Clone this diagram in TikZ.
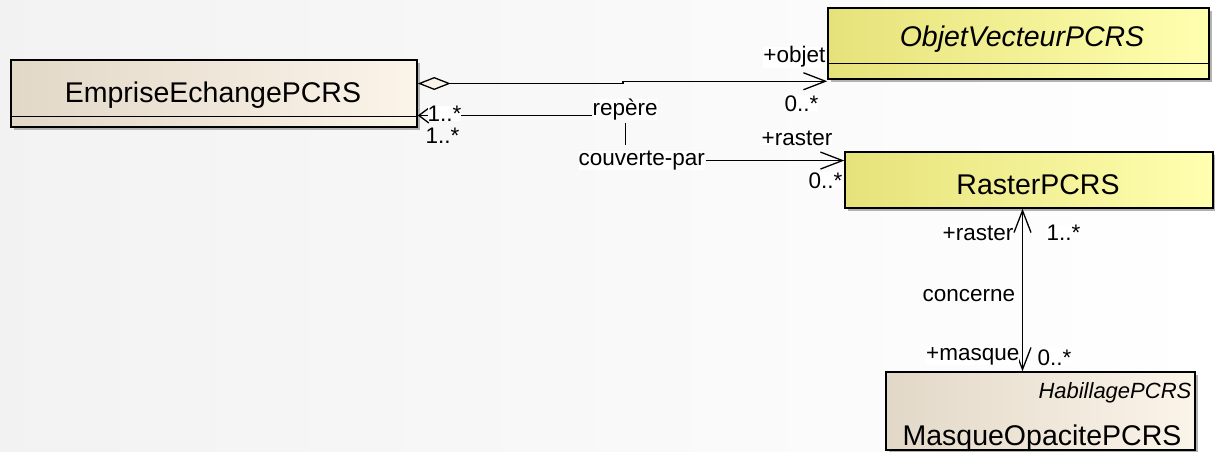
\documentclass[tikz,border=0pt]{standalone}
\usepackage{fontspec}
\setmainfont{Liberation Sans}
\usetikzlibrary{arrows.meta,shadows}
\definecolor{beigeL}{RGB}{226,216,200}
\definecolor{beigeR}{RGB}{251,244,233}
\definecolor{yellowL}{RGB}{230,226,122}
\definecolor{yellowR}{RGB}{255,255,176}
\begin{document}
\begin{tikzpicture}[x=1pt, y=-1pt, line width=1.3pt,
  classbox/.style={rectangle, draw, line width=1.5pt, inner sep=0pt,
    drop shadow={shadow xshift=3pt, shadow yshift=-3pt, fill=black!30, opacity=1}},
  beigebox/.style={classbox, left color=beigeL, right color=beigeR},
  yellowbox/.style={classbox, left color=yellowL, right color=yellowR},
  bigname/.style={font=\fontsize{28.5}{32}\selectfont, inner sep=0pt, anchor=base},
  bigitalic/.style={bigname, font=\fontsize{28.5}{32}\selectfont\itshape},
  role/.style={font=\fontsize{22.5}{25}\selectfont, inner sep=0pt, fill=white},
  pkgname/.style={role, fill=none, font=\fontsize{22}{25}\selectfont\itshape},
  >={Straight Barb[length=22pt,width=17pt]}]
 \useasboundingbox (0,0) rectangle (1215,452);
 \fill [left color=black!5, right color=white] (0,0) rectangle (1215,452);
 \node [beigebox,  minimum width=406pt, minimum height=67pt] (emprise) at (214,93.5)   {};
 \node [yellowbox, minimum width=381pt, minimum height=71pt] (objet)   at (1018.5,43.5) {};
 \node [yellowbox, minimum width=368pt, minimum height=56pt] (raster)  at (1029,180)   {};
 \node [beigebox,  minimum width=309pt, minimum height=78pt] (masque)  at (1040.5,411) {};
  \draw ([yshift=11pt]emprise.south west) -- ([yshift=11pt]emprise.south east);
  \draw ([yshift=16pt]objet.south west)   -- ([yshift=16pt]objet.south east);
 \node [bigname]   (emprise-name) at (213,102)  {EmpriseEchangePCRS};
 \node [bigitalic] (objet-name)   at (1022,47)  {ObjetVecteurPCRS};
 \node [bigname]   (raster-name)  at (1038,194) {RasterPCRS};
 \node [pkgname, anchor=base east] (masque-pkg) at (1192,398) {HabillagePCRS};
 \node [bigname]   (masque-name)  at (1042,445) {MasqueOpacitePCRS};
 \node [role, anchor=base west] (repere)   at (592,115.5) {repère};
 \node [role, anchor=base west] (couvpar)  at (578,165.5) {couverte-par};
 \node [role, anchor=base west] (concerne) at (922,301)   {concerne};
  \draw [{Diamond[length=33pt,width=13pt,fill=beigeR]}->] ([yshift=10pt]emprise.east) -- (623,83.5) |- ([yshift=-1.5pt]objet.south west);
  \draw [{Straight Barb[length=10pt,width=15pt]}-] ([yshift=-22pt]emprise.east) -- (repere.base west);
  \draw [shorten <=2pt, shorten >=5pt] (repere.south) -- (repere.south |- couvpar.north);
  \draw [->] (couvpar.east) -- (raster.west |- couvpar.east);
  \draw [<->] ([xshift=-6.5pt]raster.south) -- ([xshift=-6.5pt]raster.south |- masque.north);
 \node [role, anchor=base east] (objet-role)   at (826,63)   {+objet};
 \node [role, anchor=base west] (objet-mult)   at (784,111)  {0..*};
 \node [role, anchor=base west] (repere-mult)  at (427,121)  {1..*};
 \node [role, anchor=base west, fill=none] (emprise-mult) at (425,143) {1..*};
 \node [role, anchor=base east] (raster-role)  at (833,145)  {+raster};
 \node [role, anchor=base west] (raster-mult)  at (808,188)  {0..*};
 \node [role, anchor=base east] (raster-role2) at (1014,240) {+raster};
 \node [role, anchor=base west] (raster-mult2) at (1046,240) {1..*};
 \node [role, anchor=base east] (masque-role)  at (1020,360) {+masque};
 \node [role, anchor=base west] (masque-mult)  at (1037,365) {0..*};
\end{tikzpicture}
\end{document}
